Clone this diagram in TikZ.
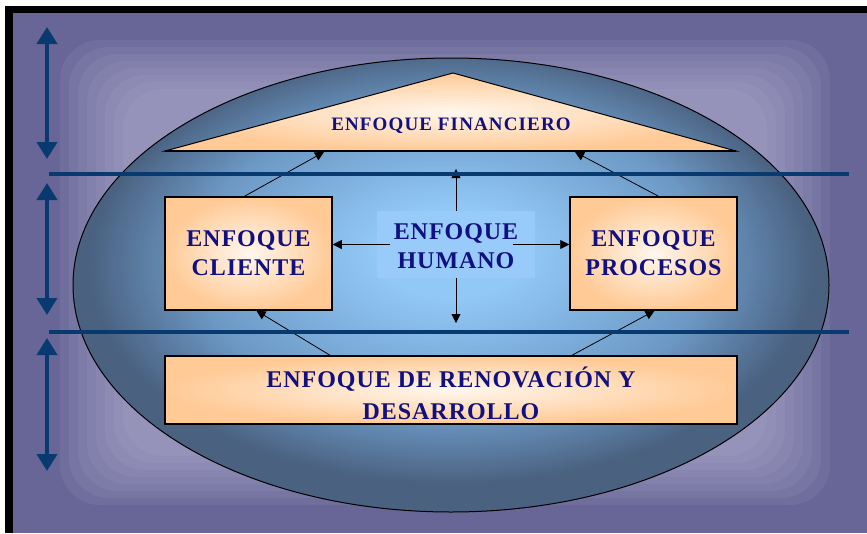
\documentclass[tikz,border=0pt]{standalone}
\usepackage{fontspec}
\setmainfont{Liberation Serif}
\newfontfamily\boxfont[LetterSpace=4]{Liberation Serif}
\newfontfamily\finfont[LetterSpace=6]{Liberation Serif}
\usepackage{tikz}
\usetikzlibrary{arrows.meta}

\definecolor{bgpurple}{RGB}{104,102,150}
\definecolor{lav}{RGB}{196,194,224}
\definecolor{navy}{RGB}{16,16,128}
\definecolor{lineblue}{RGB}{8,58,112}
\definecolor{peach}{RGB}{255,202,150}
\definecolor{peachlight}{RGB}{255,247,238}
\definecolor{humblue}{RGB}{152,202,250}
\definecolor{seaA}{RGB}{146,200,246}
\definecolor{seaB}{RGB}{108,152,196}
\definecolor{seaC}{RGB}{74,97,128}

\pgfdeclareradialshading{sea}{\pgfpoint{0bp}{4bp}}{color(0bp)=(seaA); color(5bp)=(seaA); color(17bp)=(seaB); color(24bp)=(seaC); color(50bp)=(seaC)}

\tikzset{
  box/.style={draw=black, line width=1.5pt, inner color=peachlight, outer color=peach},
  lbl/.style={font=\boxfont\bfseries\fontsize{24}{29}\selectfont, text=navy, align=center},
  bigarrow/.style={lineblue, line width=4pt, {Triangle[length=17pt,width=20pt]}-{Triangle[length=17pt,width=20pt]}},
  sep/.style={lineblue, line width=3.6pt}
}

\begin{document}
\begin{tikzpicture}[x=1pt,y=-1pt,>={Triangle[length=9pt,width=9pt]},thick]
	\useasboundingbox (0,0) rectangle (867,533);
	\fill[white] (0,0) rectangle (867,533);
	\fill[black] (5,6) rectangle (867,533);
	\fill[bgpurple] (13,13) rectangle (867,533);
	\foreach \i in {0,...,7}
		\fill[lav,opacity=0.09,rounded corners=40pt] (60+9*\i,40+7*\i) rectangle (830-9*\i,505-7*\i);
	\draw[shading=sea,draw=black,line width=1pt] (451,285) ellipse [x radius=378,y radius=227];

	\draw[inner color=peachlight,outer color=peach,draw=black,line width=1pt] (165,151) -- (453,73) -- (736,151) -- cycle;
	\draw[line width=2pt] (165,151) -- (736,151);
	\node[font=\finfont\bfseries\fontsize{19}{22}\selectfont,text=navy] (fin) at (451,126) {ENFOQUE FINANCIERO};
	\coordinate (f1) at (324,152);
	\coordinate (f2) at (575,152);

	\node[box,minimum width=167pt,minimum height=113pt] (cli) at (248.5,253.5) {};
	\node[lbl] at (cli) {ENFOQUE\\CLIENTE};
	\node[box,minimum width=167pt,minimum height=113pt] (pro) at (653.5,253.5) {};
	\node[lbl] at (pro) {ENFOQUE\\PROCESOS};
	\node[fill=humblue,minimum width=158pt,minimum height=67pt] (hum) at (456,244.5) {};
	\node[lbl] at ([yshift=-2pt]hum) {ENFOQUE\\HUMANO};
	\node[box,minimum width=572pt,minimum height=68pt] (ren) at (451,390) {};
	\node[lbl,font=\boxfont\bfseries\fontsize{24}{32}\selectfont] at ([yshift=-3pt]ren) {ENFOQUE DE RENOVACIÓN Y\\DESARROLLO};

	\coordinate (hT) at (456,169);
	\coordinate (hB) at (456,323);

	\draw[->] ([xshift=-4pt]cli.north) -- (f1);
	\draw[->] ([xshift=5pt]pro.north) -- (f2);
	\draw[->] ([xshift=13pt]hum.west) -- (cli.east |- hum.west);
	\draw[->] ([xshift=-22pt]hum.east) -- (pro.west |- hum.east);
	\draw[->] (hum.north) -- (hT);
	\draw[->] (hum.south) -- (hB);
	\draw[->] ([xshift=-121pt]ren.north) -- ([xshift=8pt]cli.south);
	\draw[->] ([xshift=121pt]ren.north) -- ([xshift=1pt]pro.south);

	\coordinate (s1) at (49,174);
	\coordinate (e1) at (849,174);
	\coordinate (s2) at (49,332);
	\coordinate (e2) at (849,332);
	\draw[sep] (s1) -- (e1);
	\draw[sep] (s2) -- (e2);

	\coordinate (a1) at (47,27);
	\coordinate (b1) at (47,159);
	\coordinate (a2) at (47,183);
	\coordinate (b2) at (47,315);
	\coordinate (a3) at (47,338);
	\coordinate (b3) at (47,471);
	\draw[bigarrow] (a1) -- (b1);
	\draw[bigarrow] (a2) -- (b2);
	\draw[bigarrow] (a3) -- (b3);
\end{tikzpicture}
\end{document}
